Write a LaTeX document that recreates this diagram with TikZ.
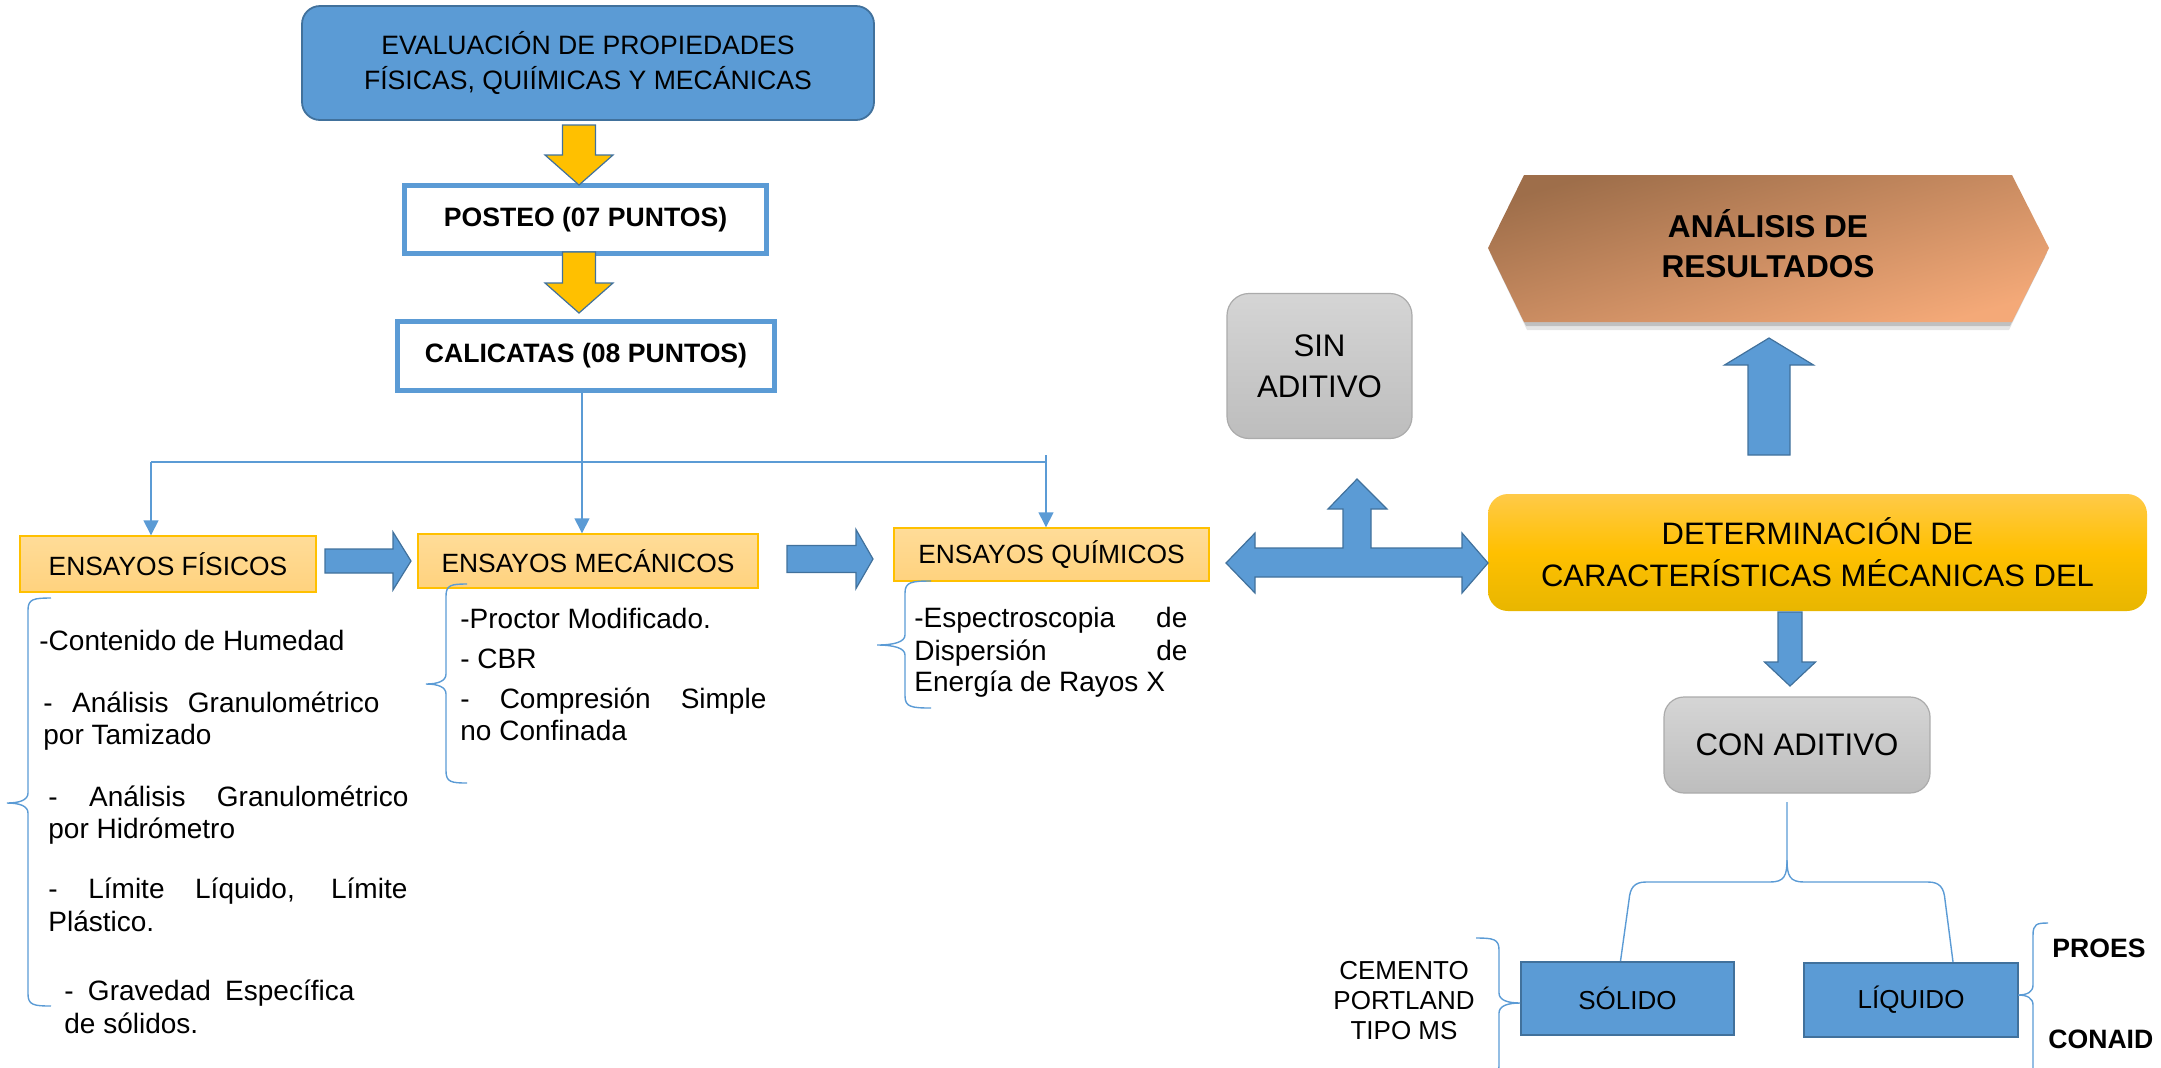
\documentclass[tikz,border=0pt]{standalone}
\usepackage{fontspec}
\setmainfont{Liberation Sans}
\usetikzlibrary{arrows.meta,calc,backgrounds}
\definecolor{blu}{HTML}{5B9BD5}
\definecolor{bludark}{HTML}{41719C}
\definecolor{gold}{HTML}{FFC000}
\definecolor{orTop}{HTML}{FFDC98}
\definecolor{orBot}{HTML}{FFD27E}
\definecolor{grTop}{HTML}{D5D5D5}
\definecolor{grBot}{HTML}{BDBDBD}
\definecolor{grBd}{HTML}{ABABAB}
\definecolor{ylTop}{HTML}{FFCA48}
\definecolor{ylBot}{HTML}{E8B600}
\definecolor{hexA}{HTML}{9E6E4A}
\definecolor{hexB}{HTML}{F4A978}
\newcommand{\myfs}[2]{\fontsize{#1}{#2}\selectfont}
\tikzset{
 conn/.style={draw=blu, line width=0.7pt},
 arr/.style={-{Triangle[length=7.5pt,width=7.5pt]}},
 bluebox/.style={draw=bludark, fill=blu, line width=0.9pt, rounded corners=9pt, align=center, inner sep=0pt},
 outbox/.style={draw=blu, fill=white, line width=2.5pt, align=center, inner sep=0pt, font=\bfseries\myfs{13.3}{16}},
 orbox/.style={draw=gold, line width=0.7pt, top color=orTop, bottom color=orBot, inner sep=0pt, font=\myfs{13.2}{16}},
 grbox/.style={draw=grBd, line width=0.6pt, top color=grTop, bottom color=grBot, rounded corners=11pt, align=center, inner sep=0pt, font=\myfs{15.6}{20.5}},
 ylbox/.style={top color=ylTop, bottom color=ylBot, middle color=gold, rounded corners=10pt, align=center, inner sep=0pt, font=\myfs{15.5}{21}},
 sqbox/.style={draw=bludark, fill=blu, line width=1pt, inner sep=0pt, font=\myfs{13}{16}},
 lst/.style={anchor=base west, inner sep=0pt, font=\myfs{14}{16}},
 yarrow/.style={fill=gold, draw=bludark, line width=0.6pt},
 barrow/.style={fill=blu, draw=bludark, line width=0.6pt},
}
% block arrow: style, tail, tip, shaft half width, head half width, head length
\newcommand{\blockarrow}[6]{%
 \coordinate (ba-b) at ($(#3)!#6!(#2)$);
 \draw[#1] ($(#2)!#4!90:(#3)$) -- ($(ba-b)!#4!90:(#3)$) -- ($(ba-b)!#5!90:(#3)$) -- (#3)
   -- ($(ba-b)!#5!-90:(#3)$) -- ($(ba-b)!#4!-90:(#3)$) -- ($(#2)!#4!-90:(#3)$) -- cycle;}
% brace: x, top, bottom, cusp y, tip x, cusp x
\newcommand{\wbrace}[6]{%
 \draw[conn] (#5,#2) .. controls ({#1+0.25*(#5-#1)},#2) and (#1,{#2+1}) .. (#1,{#2+12})
  -- (#1,{#4-10}) .. controls (#1,{#4-3}) and ({#1+0.4*(#6-#1)},#4) .. (#6,#4)
  .. controls ({#1+0.4*(#6-#1)},#4) and (#1,{#4+3}) .. (#1,{#4+10})
  -- (#1,{#3-12}) .. controls (#1,{#3-1}) and ({#1+0.25*(#5-#1)},#3) .. (#5,#3);}
\begin{document}
\begin{tikzpicture}[x=0.5pt,y=-0.5pt]
\useasboundingbox (0,0) rectangle (2161,1067);

% ---------- left column ----------
\node[bluebox, minimum width=286pt, minimum height=57pt, font=\myfs{13.3}{17.5}] (top) at (588,63)
  {EVALUACIÓN DE PROPIEDADES\\FÍSICAS, QUIÍMICAS Y MECÁNICAS};
\node[outbox, minimum width=181pt, minimum height=34pt] (posteo) at (585.5,219.5) {POSTEO (07 PUNTOS)};
\node[outbox, minimum width=188.25pt, minimum height=34.5pt] (calicatas) at (586,356) {CALICATAS (08 PUNTOS)};

\coordinate (ya1t) at (579,125); \coordinate (ya1h) at (579,185);
\blockarrow{yarrow}{ya1t}{ya1h}{8.25pt}{17pt}{15pt}
\coordinate (ya2t) at (579,252); \coordinate (ya2h) at (579,313);
\blockarrow{yarrow}{ya2t}{ya2h}{8.25pt}{17pt}{15pt}

\node[orbox, minimum width=148pt, minimum height=28pt] (fisicos) at (168,564) {ENSAYOS FÍSICOS};
\node[orbox, minimum width=170pt, minimum height=27pt] (mecanicos) at (588,561) {ENSAYOS MECÁNICOS};
\node[orbox, minimum width=157.5pt, minimum height=26.5pt] (quimicos) at (1051.5,554.5) {ENSAYOS QUÍMICOS};

% tree connectors
\coordinate (j) at (582,462);
\coordinate (jl) at (151,462);
\coordinate (jr) at (1046,462);
\coordinate (jrt) at (1046,455);
\draw[conn] (calicatas.south -| j) -- (j);
\draw[conn] (jl) -- (jr);
\draw[conn,arr] (jl) -- (jl |- fisicos.north);
\draw[conn,arr] (j) -- (j |- mecanicos.north);
\draw[conn,arr] (jrt) -- (jrt |- quimicos.north);

\coordinate (ba1t) at (325,561); \coordinate (ba1h) at (411,561);
\blockarrow{barrow}{ba1t}{ba1h}{6pt}{14.5pt}{9pt}
\coordinate (ba2t) at (787,559); \coordinate (ba2h) at (873,559);
\blockarrow{barrow}{ba2t}{ba2h}{6.75pt}{14.75pt}{8.5pt}

% lists
\wbrace{28}{598}{1006}{803}{51}{7}
\node[lst] (f1) at (39,650) {-Contenido de Humedad};
\node[lst] (f2) at (43,712) {\makebox[168pt][s]{- Análisis Granulométrico}};
\node[lst] (f3) at (43,744) {por Tamizado};
\node[lst] (f4) at (48,806) {\makebox[180pt][s]{- Análisis Granulométrico}};
\node[lst] (f5) at (48,838) {por Hidrómetro};
\node[lst] (f6) at (48,898) {\makebox[179.5pt][s]{- Límite Líquido, Límite}};
\node[lst] (f7) at (48,931) {Plástico.};
\node[lst] (f8) at (64,1000) {\makebox[145pt][s]{- Gravedad Específica}};
\node[lst] (f9) at (64,1033) {de sólidos.};

\wbrace{446}{584}{783}{684}{467}{426}
\node[lst] (m1) at (460,628) {-Proctor Modificado.};
\node[lst] (m2) at (460,668) {- CBR};
\node[lst] (m3) at (460,708) {\makebox[153pt][s]{- Compresión Simple}};
\node[lst] (m4) at (460,740) {no Confinada};

\wbrace{905}{581}{708}{645}{931}{877}
\node[lst] (q1) at (914,627) {\makebox[136.5pt][s]{-Espectroscopia de}};
\node[lst] (q2) at (914,660) {\makebox[136.5pt][s]{Dispersión de}};
\node[lst] (q3) at (914,691) {Energía de Rayos X};

% ---------- right part ----------
\node[grbox, minimum width=92.5pt, minimum height=72.5pt] (sin) at (1319.5,366) {SIN\\ADITIVO};

% hexagon with soft shadow
\fill[black, opacity=0.10] (1492,257) -- (1527,183) -- (2009,183) -- (2045,257) -- (2009,330) -- (1527,330) -- cycle;
\fill[black, opacity=0.16] (1490,253) -- (1526,179) -- (2010,179) -- (2047,253) -- (2010,326) -- (1526,326) -- cycle;
\shade[top color=hexA, bottom color=hexB, shading angle=16]
  (1488,248) -- (1524,175) -- (2012,175) -- (2049,248) -- (2012,322) -- (1524,322) -- cycle;
\node[inner sep=0pt, align=center, font=\bfseries\myfs{15.8}{20}] (analisis) at (1768,244) {ANÁLISIS DE\\RESULTADOS};

\node[ylbox, minimum width=329.5pt, minimum height=58.5pt] (determ) at (1817.5,552.5)
  {DETERMINACIÓN DE\\CARACTERÍSTICAS MÉCANICAS DEL};

% double arrow with upward branch
\draw[barrow] (1226,563) -- (1255,533) -- (1255,548) -- (1343,548) -- (1343,509) -- (1328,509) -- (1357,479)
  -- (1387,509) -- (1371,509) -- (1371,548) -- (1462,548) -- (1462,533) -- (1488,563) -- (1462,593)
  -- (1462,577) -- (1255,577) -- (1255,593) -- cycle;

\coordinate (uat) at (1769,455); \coordinate (uah) at (1769,338);
\blockarrow{barrow}{uat}{uah}{10.5pt}{22.25pt}{13.5pt}
\coordinate (dat) at (1790,612); \coordinate (dah) at (1790,686);
\blockarrow{barrow}{dat}{dah}{6pt}{12.75pt}{12pt}

\node[grbox, minimum width=133pt, minimum height=48pt, rounded corners=10pt] (con) at (1797,745) {CON ADITIVO};

\node[sqbox, minimum width=106.5pt, minimum height=36.5pt] (solido) at (1627.5,998.5) {SÓLIDO};
\node[sqbox, minimum width=107pt, minimum height=37pt] (liquido) at (1911,1000) {LÍQUIDO};

\coordinate (cs) at (1787,802);
\coordinate (sl) at ($(solido.north)+(-7,0)$);
\coordinate (lr) at ($(liquido.north)+(42,0)$);
\draw[conn] (cs) -- (1787,860) .. controls (1787,876) and (1784,882) .. (1770,882) -- (1646,882)
  .. controls (1634,882) and (1630,888) .. (1629,900) -- (sl);
\draw[conn] (1787,860) .. controls (1787,876) and (1790,882) .. (1804,882) -- (1928,882)
  .. controls (1940,882) and (1944,888) .. (1945,900) -- (lr);

\wbrace{1499}{938}{1078}{1003}{1476}{1520}
\node[align=center, inner sep=0pt, font=\myfs{13}{15}] (cemento) at (1404,1001) {CEMENTO\\PORTLAND\\TIPO MS};

\wbrace{2033}{923}{1085}{995}{2048}{2018}
\node[anchor=base west, inner sep=0pt, font=\bfseries\myfs{13.3}{16}] (proes) at (2052,957) {PROES};
\node[anchor=base west, inner sep=0pt, font=\bfseries\myfs{13.3}{16}] (conaid) at (2048,1048) {CONAID};
\end{tikzpicture}
\end{document}
